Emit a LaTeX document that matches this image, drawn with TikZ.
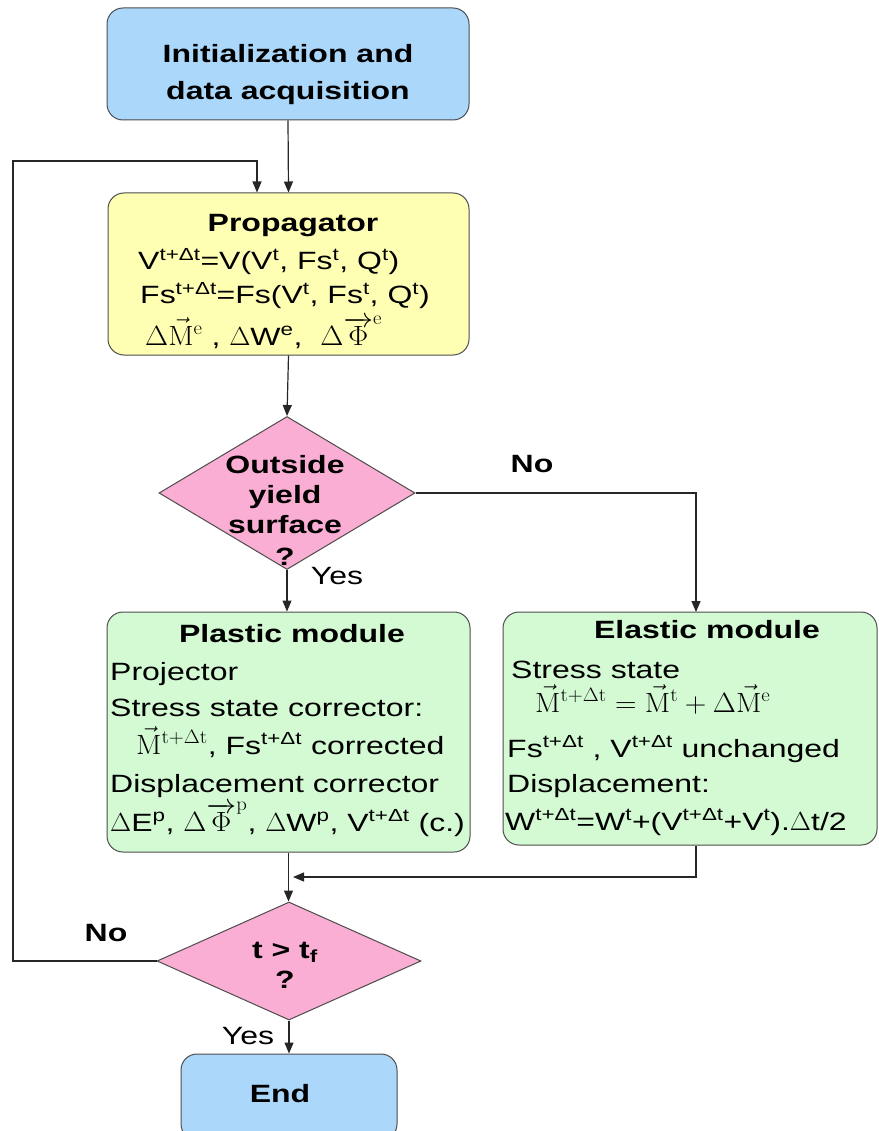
\documentclass[tikz,border=0pt]{standalone}
\usepackage[no-math]{fontspec}
\setmainfont{Liberation Sans}[FakeStretch=1.28]
\usepackage{graphicx}
\usetikzlibrary{shapes.geometric,arrows.meta}
\definecolor{cblue}{HTML}{ABD7FA}
\definecolor{cyellow}{HTML}{FFFFB4}
\definecolor{cgreen}{HTML}{D4FAD4}
\definecolor{cpink}{HTML}{FBAED3}
\newcommand\mth[1]{\scalebox{1.2}[1.12]{$#1$}}
\newcommand\sps[1]{\textsuperscript{#1}}
\newcommand\dl{\scalebox{1.1}[1.05]{$\Delta$}}
\newcommand\fsz{\fontsize{25}{30}\selectfont}
\tikzset{
  box/.style={draw=black!70, line width=1pt, rounded corners=16pt, inner sep=0pt},
  dia/.style={diamond, draw=black!70, line width=1pt, fill=cpink, inner sep=0pt, aspect=1.6},
  txt/.style={font=\fsz, inner sep=0pt, anchor=base west},
  hd/.style={font=\fsz\bfseries, inner sep=0pt, anchor=base},
  ctr/.style={font=\fsz, inner sep=0pt, anchor=base},
  arr/.style={draw=black!85, line width=1.2pt, -{Triangle[length=11pt,width=9pt]}}
}
\begin{document}
\begin{tikzpicture}[x=1pt,y=-1pt]
\useasboundingbox (0,0) rectangle (878,1131);
% boxes
\node[box, fill=cblue, minimum width=362pt, minimum height=112pt] (init) at (288,64) {};
\node[hd] (initA) at (288,63) {Initialization and};
\node[hd] (initB) at (288,100) {data acquisition};

\node[box, fill=cyellow, minimum width=361pt, minimum height=162pt] (prop) at (288.5,274) {};
\node[hd] (propH) at (293,232) {Propagator};
\node[txt] (propA) at (138,270) {V\sps{t+Δt}=V(V\sps{t}, Fs\sps{t}, Q\sps{t})};
\node[txt] (propB) at (140,304) {Fs\sps{t+Δt}=Fs(V\sps{t}, Fs\sps{t}, Q\sps{t})};
\node[txt] (propC) at (145,345) {\mth{\Delta\vec{\mathrm{M}}^{\mathrm{e}}} , \dl W\sps{e},\ \ \mth{\Delta\overrightarrow{\Phi}^{\mathrm{e}}}};

\node[dia, minimum width=256pt, minimum height=153pt] (d1) at (287,493) {};
\node[hd] (d1a) at (285,473) {Outside};
\node[hd] (d1b) at (285,503) {yield};
\node[hd] (d1c) at (285,533) {surface};
\node[hd] (d1d) at (285,565) {?};

\node[box, fill=cgreen, minimum width=363pt, minimum height=240pt] (plast) at (288.5,732) {};
\node[hd] (plH) at (292,642) {Plastic module};
\node[txt] (plA) at (110,680) {Projector};
\node[txt] (plB) at (110,716) {Stress state corrector:};
\node[txt] (plC) at (136,754) {\mth{\vec{\mathrm{M}}^{\mathrm{t+\Delta t}}}, Fs\sps{t+Δt} corrected};
\node[txt] (plD) at (110,792) {Displacement corrector};
\node[txt] (plE) at (110,831) {\dl E\sps{p}, \mth{\Delta\overrightarrow{\Phi}^{\mathrm{p}}}, \dl W\sps{p}, V\sps{t+Δt} (c.)};

\node[box, fill=cgreen, minimum width=374pt, minimum height=233pt] (elast) at (690,728.5) {};
\node[hd] (elH) at (707,638) {Elastic module};
\node[txt] (elA) at (511,678) {Stress state};
\node[txt] (elB) at (535,712) {\mth{\vec{\mathrm{M}}^{\mathrm{t+\Delta t}}=\vec{\mathrm{M}}^{\mathrm{t}}+\Delta\vec{\mathrm{M}}^{\mathrm{e}}}};
\node[txt] (elC) at (507,757) {Fs\sps{t+Δt} , V\sps{t+Δt} unchanged};
\node[txt] (elD) at (507,792) {Displacement:};
\node[txt] (elE) at (505,830) {W\sps{t+Δt}=W\sps{t}+(V\sps{t+Δt}+V\sps{t}).\dl t/2};

\node[dia, minimum width=264pt, minimum height=118pt] (d2) at (289,961) {};
\node[hd] (d2a) at (285,958) {t > t\textsubscript{f}};
\node[hd] (d2b) at (285,988) {?};

\node[box, fill=cblue, minimum width=216pt, minimum height=86pt] (end) at (289,1097) {};
\node[hd] (endT) at (280,1102) {End};

% labels
\node[hd] (no1) at (532,472) {No};
\node[ctr] (yes1) at (337,584) {Yes};
\node[hd] (no2) at (106,941) {No};
\node[ctr] (yes2) at (248,1044) {Yes};

% coordinates
\coordinate (lL) at (13,161);
\coordinate (lp) at (257,161);
\coordinate (eX) at (696,612);
\coordinate (mg) at (293,877);

% connectors
\draw[arr] (init.south) -- (prop.north);
\draw[arr] (d2.west) -| (lL) -- (lp) -- (lp |- prop.north);
\draw[arr] (prop.south) -- (d1.north);
\draw[arr] (d1.south) -- (d1.south |- plast.north);
\draw[arr] (d1.east) -| (eX);
\draw[arr] (plast.south) -- (plast.south |- d2.north);
\draw[arr] (eX |- elast.south) |- (mg);
\draw[arr] (d2.south) -- (end.north);
\end{tikzpicture}
\end{document}
